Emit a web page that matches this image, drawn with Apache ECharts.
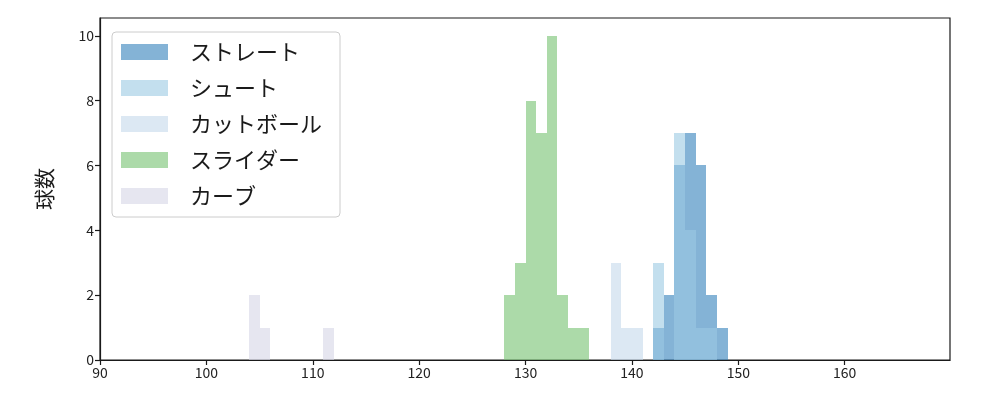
<!DOCTYPE html>
<html>
<head>
<meta charset="utf-8">
<script src="https://cdn.jsdelivr.net/npm/echarts@6/dist/echarts.min.js"></script>
<style>
html,body{margin:0;padding:0;background:#fff;}
#chart{width:1000px;height:400px;}
</style>
</head>
<body>
<div id="chart"></div>
<script>
// bin width is 1 km/h; each array holds bin left edges and counts
var binWidth = 1;
var seriesNames = ['ストレート', 'シュート', 'カットボール', 'スライダー', 'カーブ'];
var straightBins = [142, 143, 144, 145, 146, 147, 148];
var straightCounts = [1, 2, 6, 7, 6, 2, 1];
var shootBins = [142, 143, 144, 145, 146, 147];
var shootCounts = [3, 0, 7, 4, 1, 1];
var cutBins = [138, 139, 140];
var cutCounts = [3, 1, 1];
var sliderBins = [128, 129, 130, 131, 132, 133, 134, 135];
var sliderCounts = [2, 3, 8, 7, 10, 2, 1, 1];
var curveBins = [104, 105, 111];
var curveCounts = [2, 1, 1];
var xTicks = [90, 100, 110, 120, 130, 140, 150, 160];
var yTicks = [0, 2, 4, 6, 8, 10];

var colors = [
  'rgba(50,128,187,0.6)',
  'rgba(155,202,227,0.6)',
  'rgba(197,217,235,0.6)',
  'rgba(117,193,112,0.6)',
  'rgba(213,213,230,0.6)'
];

function toData(bins, counts) {
  var d = [];
  for (var i = 0; i < bins.length; i++) {
    if (counts[i] > 0) d.push([bins[i], bins[i] + binWidth, counts[i]]);
  }
  return d;
}
var allData = [
  toData(straightBins, straightCounts),
  toData(shootBins, shootCounts),
  toData(cutBins, cutCounts),
  toData(sliderBins, sliderCounts),
  toData(curveBins, curveCounts)
];

function renderItem(params, api) {
  var p0 = api.coord([api.value(0), api.value(2)]);
  var p1 = api.coord([api.value(1), 0]);
  var x0 = Math.round(p0[0]), x1 = Math.round(p1[0]);
  var y0 = Math.round(p0[1]), y1 = Math.round(p1[1]);
  return {
    type: 'rect',
    shape: {x: x0, y: y0, width: x1 - x0, height: y1 - y0},
    style: {fill: api.visual('color')}
  };
}

var font = '"Noto Sans CJK JP", "DejaVu Sans", sans-serif';
var series = seriesNames.map(function (n, i) {
  return {
    name: n,
    type: 'custom',
    renderItem: renderItem,
    itemStyle: {color: colors[i]},
    encode: {x: [0, 1], y: 2},
    data: allData[i],
    animation: false
  };
});

var chart = echarts.init(document.getElementById('chart'), null, {renderer: 'canvas'});
chart.setOption({
  animation: false,
  textStyle: {fontFamily: font},
  grid: {left: 100, right: 50, top: 18, bottom: 40, show: true, borderColor: '#1a1a1a', borderWidth: 1.2, backgroundColor: 'transparent'},
  legend: {
    orient: 'vertical',
    left: 112, top: 32,
    icon: 'rect',
    itemWidth: 47, itemHeight: 16, itemGap: 14,
    padding: [9, 18, 10, 9],
    borderColor: '#cccccc', borderWidth: 1, borderRadius: 4,
    backgroundColor: 'rgba(255,255,255,0.8)',
    textStyle: {fontSize: 22, lineHeight: 22, color: '#1a1a1a', fontFamily: font, padding: [0, 0, 0, 17]},
    data: seriesNames
  },
  xAxis: {
    type: 'value', min: 90, max: 169.9, interval: 10,
    axisLine: {show: true, lineStyle: {color: '#1a1a1a', width: 1.2}},
    axisTick: {show: true, length: 5, lineStyle: {color: '#1a1a1a', width: 1.2}},
    axisLabel: {color: '#222', fontSize: 14, margin: 6, fontFamily: font, showMaxLabel: false},
    splitLine: {show: false}
  },
  yAxis: {
    type: 'value', min: 0, max: 10.55, interval: 2,
    name: '球数', nameLocation: 'middle', nameGap: 45, nameRotate: 90,
    nameTextStyle: {fontSize: 21, color: '#1a1a1a', fontFamily: font},
    axisLine: {show: true, lineStyle: {color: '#1a1a1a', width: 1.2}},
    axisTick: {show: true, length: 5, lineStyle: {color: '#1a1a1a', width: 1.2}},
    axisLabel: {color: '#222', fontSize: 14, margin: 6, fontFamily: font, showMaxLabel: false},
    splitLine: {show: false}
  },
  series: series
});
</script>
</body>
</html>
